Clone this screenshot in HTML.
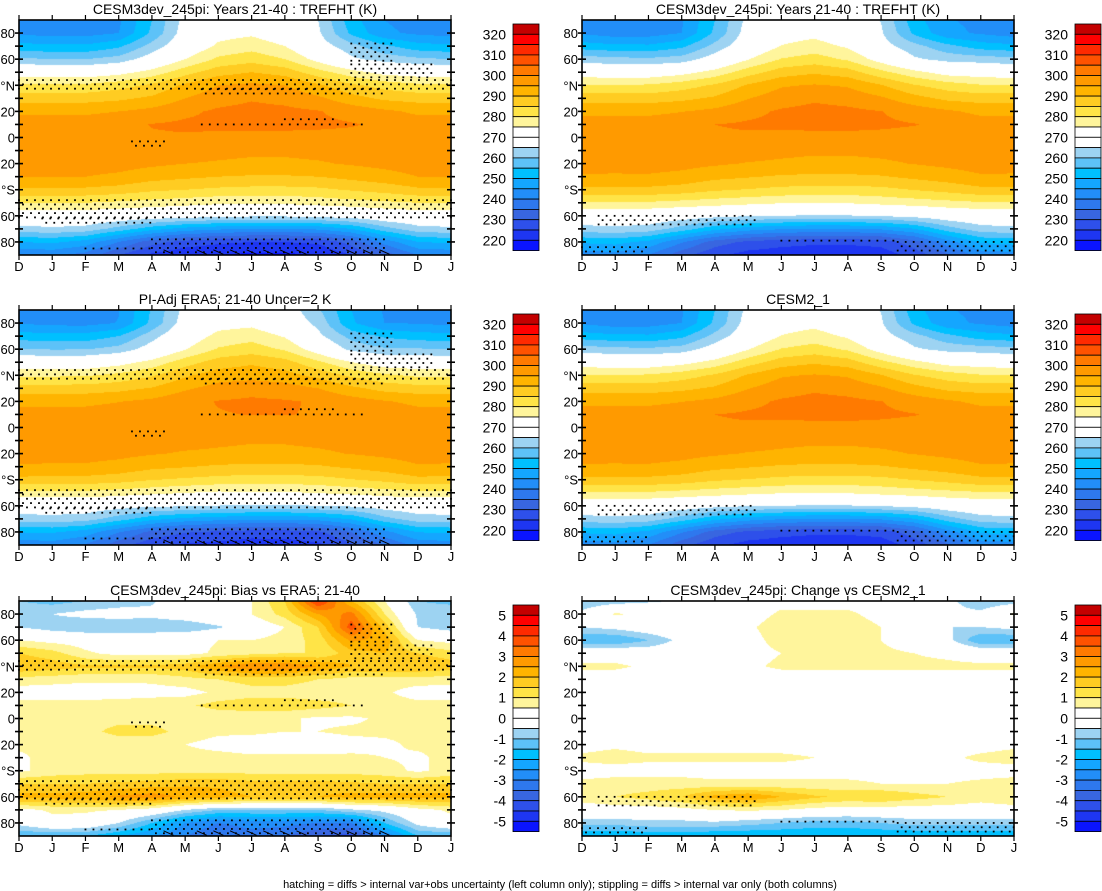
<!DOCTYPE html>
<html><head><meta charset="utf-8">
<style>
html,body{margin:0;padding:0;background:#fff;}
body{width:1102px;height:891px;position:relative;overflow:hidden;font-family:"Liberation Sans",sans-serif;}
canvas{position:absolute;}
svg{position:absolute;left:0;top:0;}
</style></head>
<body>
<canvas id="c1" width="432" height="235" style="left:19px;top:20px"></canvas>
<canvas id="c2" width="432" height="235" style="left:582px;top:20px"></canvas>
<canvas id="c3" width="432" height="235" style="left:19px;top:310px"></canvas>
<canvas id="c4" width="432" height="235" style="left:582px;top:310px"></canvas>
<canvas id="c5" width="432" height="235" style="left:19px;top:601px"></canvas>
<canvas id="c6" width="432" height="235" style="left:582px;top:601px"></canvas>
<svg id="ov" width="1102" height="891"></svg>
<script>
// ---- data ----
const months = ["D","J","F","M","A","M","J","J","A","S","O","N","D","J"];
const lats = [90,80,70,60,50,40,30,20,10,0,-10,-20,-30,-40,-50,-60,-70,-80,-90];
const tempLabels = ["320","310","300","290","280","270","260","250","240","230","220"];
const diffLabels = ["5","4","3","2","1","0","-1","-2","-3","-4","-5"];
// CESM3dev TREFHT (K), rows = lats, cols = months
const cesm3 = [
[243,242,242,244,255,267,271,272,270,265,252,245,243,242],
[244,243,243,245,256,268,273,274,271,266,254,246,244,243],
[252,251,251,254,262,270,276,278,275,268,262,256,252,251],
[261,260,260,262,268,275,281,283,280,273,266,263,261,260],
[272,271,271,273,277,283,288,290,288,282,277,273,272,271],
[281,281,281,283,286,291,295,296,295,291,286,283,281,281],
[288,288,288,289,291,295,298,299.5,298.5,296,292,289,288,288],
[294,294,294,295,296.5,299,300.8,301.6,301.2,300.3,298,296,294,294],
[297.5,297.5,297.5,298.5,300.2,300.8,301,301.4,301.4,301,300.4,299,297.5,297.5],
[298,298,298.5,299,299.5,299.5,299,298.5,298.5,298.5,298.5,298.5,298,298],
[298,298,298.5,298.5,298,297.5,296.5,296,296,296.5,297,297.5,298,298],
[297.5,297.5,297.5,297,296,295,294.5,294,294,294.5,295.5,296.5,297.5,297.5],
[295,295,295,294,292,291,290,289.5,289.5,290,291.5,293,295,295],
[289,289,289,288,286,285,284,283.5,283.5,284,285.5,287,289,289],
[280,280,280,279,278,277,276,276,276,277,278,279,280,280],
[271,271,271,270,269,268,267,266,266,267,268,270,271,271],
[263,264,263,258,252,248,246,245,245,246,250,258,263,264],
[250,251,248,240,232,228,226,225,225,226,232,242,250,251],
[240,241,238,230,224,221,220,219,219,220,225,232,240,241]];
// Bias vs ERA5 (K)
const bias = [
[-1,-1.2,-1,-0.8,-0.6,0.2,0.3,0.5,1.5,4.2,2,0.5,-1,-1.2],
[-0.6,-0.5,-0.3,-0.2,-0.3,0,0.3,0.5,1.2,2.5,3.2,1,-0.6,-0.5],
[-0.5,-0.8,-1,-1,-1,-1,-0.6,0,0.5,1.5,3.8,1.8,-0.5,-0.8],
[0.5,0.3,0.2,0.2,0.2,0.3,0.5,0.5,0.7,1.2,2.6,2.3,0.5,0.3],
[1.5,1.2,0.6,0.3,0.3,0.3,0.6,0.8,1,1,1.8,2,1.5,1.2],
[2,1.8,1.6,1.6,1.6,1.8,2.5,3,3,2.5,2,2,2,1.8],
[0.8,0.7,0.6,0.6,0.6,0.8,1,1.2,1.2,1,0.8,0.8,0.8,0.7],
[0.2,0.2,0.2,0.2,0.3,0.3,0.6,0.8,0.8,0.7,0.7,0.6,0.2,0.2],
[0.7,0.7,0.7,0.8,0.8,0.9,1.2,1.3,1.3,1.2,1,0.8,0.7,0.7],
[0.7,0.7,0.8,0.8,0.8,0.6,0.6,0.6,0.6,0.4,0.4,0.6,0.7,0.7],
[0.6,0.6,0.8,1.2,1.2,0.8,0.6,0.6,0.5,0.5,0.6,0.6,0.6,0.6],
[0.6,0.6,0.6,0.6,0.6,0.5,0.3,0.2,0.2,0.2,0.3,0.4,0.6,0.6],
[0.4,0.7,0.7,0.8,0.8,0.7,0.7,0.6,0.6,0.6,0.6,0.5,0.4,0.7],
[0.4,0.7,0.8,0.8,0.8,0.8,0.8,0.8,0.8,0.8,0.8,0.7,0.4,0.7],
[1.5,1.5,1.5,1.6,1.7,1.9,1.9,1.7,1.7,1.7,1.6,1.5,1.5,1.5],
[2.2,2.2,2.3,2.6,2.8,2.4,2.2,2,2,2,2.2,2.2,2.2,2.2],
[0.3,0.6,0.6,0.5,0.2,-0.5,-1,-1,-1,-1,-0.6,-0.3,0.3,0.6],
[-0.3,0.3,0.2,-0.5,-1.5,-2.5,-3,-2.8,-2.8,-3,-3,-1.5,-0.3,0.3],
[-1.5,-1.5,-1.5,-2,-2.5,-3,-3.5,-3.2,-3.5,-4,-4.2,-3,-1.5,-1.5]];
// Change vs CESM2_1 (K)
const change = [
[-1,-0.8,-0.6,-0.4,0,0.2,0.3,0.3,0.3,0.2,0,-0.3,-1,-0.8],
[-0.3,0.6,0.3,0,0,0.2,0.6,0.6,0.6,0.3,0,-0.3,-0.3,0.6],
[-0.5,-0.3,0,0.2,0.3,0.4,0.8,0.9,0.8,0.5,0.2,-0.5,-0.5,-0.3],
[-1.5,-1.5,-1,-0.3,0.1,0.3,0.7,0.8,0.8,0.5,0.2,-0.3,-1.5,-1.5],
[0.2,0.2,0,0,0.1,0.3,0.5,0.7,0.7,0.6,0.5,0.4,0.2,0.2],
[0.6,0.6,0.4,0.3,0.3,0.4,0.6,0.6,0.6,0.6,0.6,0.6,0.6,0.6],
[0.2,0.2,0.2,0.2,0.2,0.2,0.2,0.2,0.2,0.2,0.2,0.2,0.2,0.2],
[0.2,0.2,0.2,0.2,0.2,0.2,0.2,0.2,0.2,0.2,0.2,0.2,0.2,0.2],
[0.2,0.2,0.2,0.2,0.2,0.2,0.2,0.2,0.2,0.2,0.2,0.2,0.2,0.2],
[0.2,0.2,0.2,0.2,0.2,0.2,0.1,-0.2,-0.3,-0.2,0.1,0.2,0.2,0.2],
[0.2,0.2,0.2,0.2,0.2,0.2,0.2,0.2,0.2,0.2,0.2,0.2,0.2,0.2],
[0.3,0.4,0.3,0.3,0.3,0.3,0.3,0.3,0.3,0.3,0.3,0.3,0.3,0.4],
[0.6,0.7,0.6,0.6,0.6,0.6,0.6,0.5,0.4,0.4,0.4,0.4,0.6,0.7],
[0.3,0.3,0.3,0.3,0.3,0.3,0.3,0.3,0.3,0.3,0.3,0.3,0.3,0.3],
[0.6,0.7,0.7,0.7,0.6,0.6,0.6,0.6,0.6,0.5,0.5,0.5,0.6,0.7],
[0.8,1,1.2,1.5,2.2,2.5,2,1.6,1.4,1.5,1.2,1,0.8,1],
[0.1,0.2,0.2,0.3,0.5,0.6,0.5,0.3,0.2,0.2,0.2,0.2,0.1,0.2],
[-0.8,-0.8,-0.7,-0.7,-0.6,-0.8,-1,-1.2,-1.2,-1,-0.8,-0.8,-0.8,-0.8],
[-2,-2,-1.8,-1.8,-2,-2,-2,-2,-2,-2,-2,-2,-2,-2]];
// stipple regions [latMin, latMax, monthStart, monthEnd]
const stipLeft = [[37,44,0,13],[33,37,5.5,11],[8,10,5.5,10.5],[12,14,8,9.5],[-7,-3,3.4,4.4],[-62,-48,0,13],[-66,-62,0.7,4],[-88,-78,4,11],[-88,-85,2,4],[58,72,10,11.3],[46,56,10,12.5]];
const stipRight = [[-68,-60,0.5,5.3],[-88,-80,9.5,13],[-81,-79,6,9.5],[-88,-84,0,2]];
const hatchMonths = [4.5,5.5,6,6.5,7,7.5,8,8.5,9.5,10,10.5,11];

const colors=["#c40000","#ff0000","#ff2a00","#ff5200","#ff7a00","#ff9a00","#ffb400","#ffcc22","#ffe447","#fff59c","#ffffff","#ffffff","#9dd3f2","#5dc2f8","#00c0ff","#14a6ff","#228ef8","#2e78ee","#3866e0","#2e50ea","#1e36f2","#0a14ff"];
function boxOf(v){ if(v>=320) return 0; if(v<220) return 21; return Math.floor((320-v)/5)+1; }

function sample(grid, m, lat){
  let r=(90-lat)/10, c=m;
  let r0=Math.min(Math.floor(r),17), c0=Math.min(Math.floor(c),12);
  let fr=r-r0, fc=c-c0;
  let a=grid[r0][c0],b=grid[r0][c0+1],d=grid[r0+1][c0],e=grid[r0+1][c0+1];
  return a*(1-fr)*(1-fc)+b*(1-fr)*fc+d*fr*(1-fc)+e*fr*fc;
}
function drawField(id, fn){
  const cv=document.getElementById(id), ctx=cv.getContext('2d');
  const W=432,H=235, img=ctx.createImageData(W,H);
  for(let y=0;y<H;y++){ const lat=90-(y+0.5)*180/H;
    for(let x=0;x<W;x++){ const m=(x+0.5)*13/W;
      const col=colors[boxOf(fn(m,lat))];
      const i=(y*W+x)*4;
      img.data[i]=parseInt(col.substr(1,2),16);img.data[i+1]=parseInt(col.substr(3,2),16);img.data[i+2]=parseInt(col.substr(5,2),16);img.data[i+3]=255;
    }}
  ctx.putImageData(img,0,0);
}
drawField('c1',(m,l)=>sample(cesm3,m,l));
drawField('c2',(m,l)=>sample(cesm3,m,l)-sample(change,m,l));
drawField('c3',(m,l)=>sample(cesm3,m,l)-sample(bias,m,l));
drawField('c4',(m,l)=>sample(cesm3,m,l)-sample(change,m,l));
drawField('c5',(m,l)=>270+10*sample(bias,m,l));
drawField('c6',(m,l)=>270+10*sample(change,m,l));

// ---- axes ----
const NS="http://www.w3.org/2000/svg", ov=document.getElementById('ov');
function mk(tag,attrs,parent){const e=document.createElementNS(NS,tag);for(const k in attrs)e.setAttribute(k,attrs[k]);(parent||ov).appendChild(e);return e;}
const panels=[
 {x0:19,y0:20,title:"CESM3dev_245pi: Years 21-40 : TREFHT (K)",stip:stipLeft,hatch:true,cb:"t",name:"panel-cesm3dev"},
 {x0:582,y0:20,title:"CESM3dev_245pi: Years 21-40 : TREFHT (K)",stip:stipRight,hatch:false,cb:"t",name:"panel-cesm3dev-right"},
 {x0:19,y0:310,title:"PI-Adj ERA5: 21-40 Uncer=2 K",stip:stipLeft,hatch:true,cb:"t",name:"panel-era5"},
 {x0:582,y0:310,title:"CESM2_1",stip:stipRight,hatch:false,cb:"t",name:"panel-cesm2"},
 {x0:19,y0:601,title:"CESM3dev_245pi: Bias vs ERA5: 21-40",stip:stipLeft,hatch:true,cb:"d",name:"panel-bias"},
 {x0:582,y0:601,title:"CESM3dev_245pi: Change vs CESM2_1",stip:stipRight,hatch:false,cb:"d",name:"panel-change"}];
const W=432,H=235;
panels.forEach(p=>{
  const g=mk('g',{});  
  const X=m=>p.x0+m*W/13, Y=l=>p.y0+(90-l)*H/180;
  p.stip.forEach(r=>{
    let row=0;
    for(let l=r[1]; l>=r[0]; l-=3.3,row++){
      const off=(row%2)*4;
      for(let px=X(r[2])+off; px<=X(r[3]); px+=8){
        const d=mk('rect',{x:px-0.9,y:Y(l)-0.9,width:1.8,height:1.8,fill:"#000"},g);
         
      }
    }
  });
  if(p.hatch){ hatchMonths.forEach(m=>{
    const h=mk('line',{x1:X(m)-5,y1:Y(-86),x2:X(m)+5,y2:Y(-89.5),stroke:"#000","stroke-width":1},g);
     
  });}
  const f=mk('rect',{x:p.x0,y:p.y0,width:W,height:H,fill:"none",stroke:"#000","stroke-width":1.6},g);
   
  for(let l=-80;l<=80;l+=10){
    mk('line',{x1:p.x0-4,y1:Y(l),x2:p.x0+4,y2:Y(l),stroke:"#000","stroke-width":1.6},g);
    mk('line',{x1:p.x0+W-4,y1:Y(l),x2:p.x0+W+4,y2:Y(l),stroke:"#000","stroke-width":1.6},g);
  }
  const latLab={80:"80",60:"60",40:"°N",20:"20",0:"0","-20":"20","-40":"°S","-60":"60","-80":"80"};
  for(const k in latLab){
    const t=mk('text',{x:p.x0-4,y:Y(+k)+5,"text-anchor":"end","font-size":"13px",fill:"#000"},g);
    t.textContent=latLab[k];  
  }
  months.forEach((mo,i)=>{
    mk('line',{x1:X(i),y1:p.y0-5,x2:X(i),y2:p.y0,stroke:"#000","stroke-width":1.2},g);
    mk('line',{x1:X(i),y1:p.y0+H,x2:X(i),y2:p.y0+H+5,stroke:"#000","stroke-width":1.2},g);
    const t=mk('text',{x:X(i),y:p.y0+H+16,"text-anchor":"middle","font-size":"13px",fill:"#000"},g);
    t.textContent=mo;  
  });
  const tt=mk('text',{x:p.x0+W/2,y:p.y0-6,"text-anchor":"middle","font-size":"14px",fill:"#000"},g);
  tt.textContent=p.title;  
  const cbx=p.x0<300?513:1075, cby=p.y0+4, bh=10.3;
  const cb=mk('g',{},g);  
  colors.forEach((c,i)=>{
    const r=mk('rect',{x:cbx,y:cby+i*bh,width:26,height:bh,fill:c,stroke:"#000","stroke-width":0.8},cb);
     
  });
  const labs=p.cb==="t"?tempLabels:diffLabels;
  labs.forEach((s,i)=>{
    const t=mk('text',{x:cbx-7,y:cby+(1+2*i)*bh+5,"text-anchor":"end","font-size":"14px",fill:"#000"},cb);
    t.textContent=s;  
  });
});
const ft=mk('text',{x:560,y:888,"text-anchor":"middle","font-size":"11px",fill:"#000"});
ft.textContent="hatching = diffs > internal var+obs uncertainty (left column only); stippling = diffs > internal var only (both columns)";
 
</script>
</body></html>
